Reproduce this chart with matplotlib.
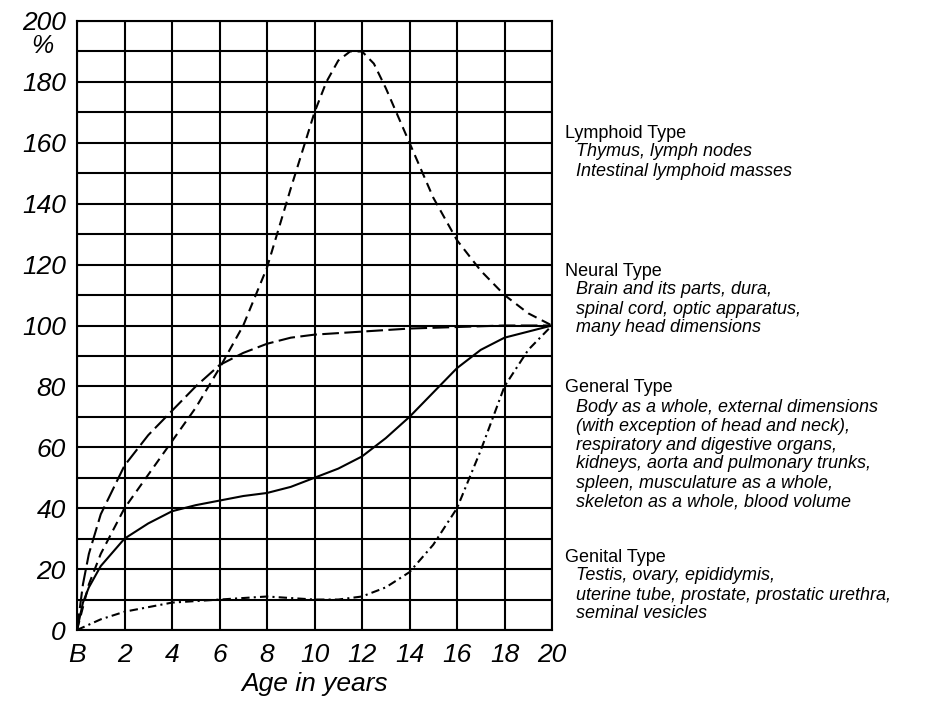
import matplotlib
matplotlib.use('Agg')
import matplotlib.pyplot as plt

plt.rcParams['font.family'] = ['Liberation Sans', 'DejaVu Sans']

# Scammon growth curves, % of total postnatal growth (value at age 20 = 100)
lymphoid_age = [0, 0.5, 1, 2, 3, 4, 5, 6, 7, 8, 9, 10, 10.5, 11, 11.5, 12, 12.5, 13, 14, 15, 16, 17, 18, 19, 20]
lymphoid_val = [0, 15, 25, 40, 51, 62, 73, 86, 100, 119, 145, 170, 180, 187, 190, 190, 186, 178, 160, 142, 128, 118, 110, 104, 100]

neural_age = [0, 0.25, 0.5, 1, 2, 3, 4, 5, 6, 7, 8, 9, 10, 12, 14, 16, 18, 20]
neural_val = [0, 15, 25, 38, 54, 64, 72, 80, 87, 91, 94, 96, 97, 98, 99, 99.5, 100, 100]

general_age = [0, 0.25, 0.5, 1, 2, 3, 4, 5, 6, 7, 8, 9, 10, 11, 12, 13, 14, 15, 16, 17, 18, 19, 20]
general_val = [0, 9, 14, 21, 30, 35, 39, 41, 42.5, 44, 45, 47, 50, 53, 57, 63, 70, 78, 86, 92, 96, 98, 100]

genital_age = [0, 1, 2, 4, 6, 8, 10, 11, 12, 13, 14, 15, 16, 17, 18, 19, 20]
genital_val = [0, 3.5, 6, 9, 10, 11, 10, 10, 11, 14, 19, 28, 40, 59, 80, 92, 100]

x_ticks = [0, 2, 4, 6, 8, 10, 12, 14, 16, 18, 20]
x_labels = ['B', '2', '4', '6', '8', '10', '12', '14', '16', '18', '20']
y_ticks = [0, 20, 40, 60, 80, 100, 120, 140, 160, 180, 200]

annotations = [
    ('Lymphoid Type', ['Thymus, lymph nodes', 'Intestinal lymphoid masses'], 133),
    ('Neural Type', ['Brain and its parts, dura,', 'spinal cord, optic apparatus,',
                     'many head dimensions'], 271),
    ('General Type', ['Body as a whole, external dimensions',
                      '(with exception of head and neck),',
                      'respiratory and digestive organs,',
                      'kidneys, aorta and pulmonary trunks,',
                      'spleen, musculature as a whole,',
                      'skeleton as a whole, blood volume'], 388),
    ('Genital Type', ['Testis, ovary, epididymis,',
                      'uterine tube, prostate, prostatic urethra,',
                      'seminal vesicles'], 557),
]

W, H = 942, 707
fig = plt.figure(figsize=(W / 100, H / 100), dpi=100)
ax = fig.add_axes([77 / W, 1 - 630 / H, (552 - 77) / W, (630 - 21) / H])

lw = 1.5
ax.plot(lymphoid_age, lymphoid_val, color='black', lw=lw, linestyle=(0, (4.5, 2.8)))
ax.plot(neural_age, neural_val, color='black', lw=lw, linestyle=(0, (8, 2.6)))
ax.plot(general_age, general_val, color='black', lw=lw, linestyle='-')
ax.plot(genital_age, genital_val, color='black', lw=lw, linestyle=(0, (4, 2, 1, 2)))

ax.set_xlim(0, 20)
ax.set_ylim(0, 200)
ax.set_xticks(x_ticks)
ax.set_xticklabels(x_labels)
ax.set_yticks(y_ticks)
ax.set_yticks(range(10, 200, 20), minor=True)
ax.grid(True, which='both', color='black', lw=1.5)
ax.tick_params(which='both', length=0, labelsize=19)
ax.tick_params(axis='x', pad=9)
ax.tick_params(axis='y', pad=8)
for lab in ax.get_xticklabels() + ax.get_yticklabels():
    lab.set_fontstyle('italic')
for sp in ax.spines.values():
    sp.set_linewidth(1.5)

ax.set_xlabel('Age in years', fontsize=19, fontstyle='italic', labelpad=4)
fig.text(42 / W, 1 - 46 / H, '%', fontsize=18, fontstyle='italic',
         ha='center', va='center')

# type descriptions on the right
for title, lines, y0 in annotations:
    fig.text(565 / W, 1 - y0 / H, title, fontsize=13, ha='left', va='center')
    for i, line in enumerate(lines):
        fig.text(576 / W, 1 - (y0 + 19 * (i + 1)) / H, line, fontsize=13,
                 fontstyle='italic', ha='left', va='center')

fig.savefig('out.png', dpi=100)
